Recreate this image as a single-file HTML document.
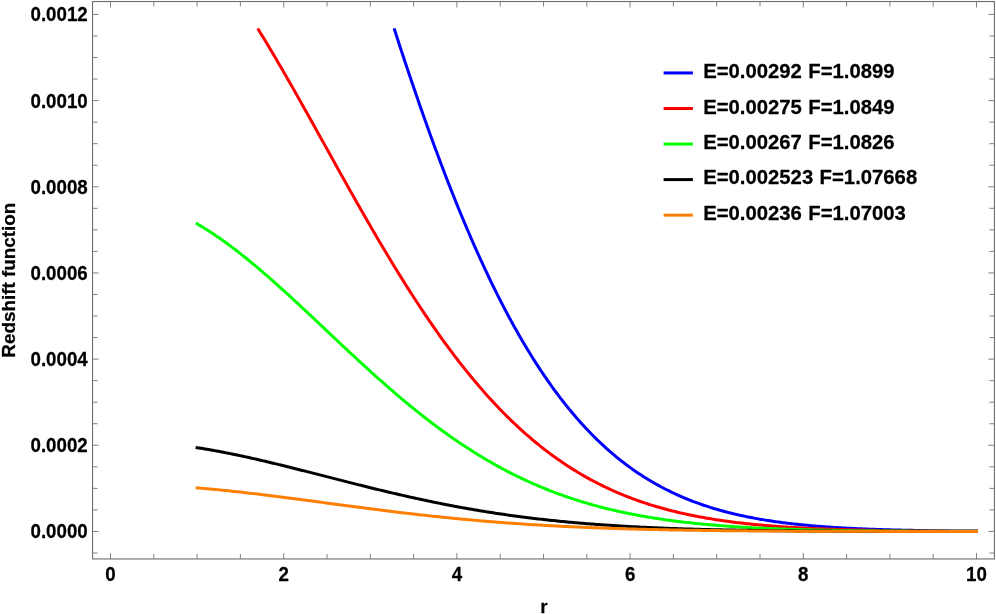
<!DOCTYPE html>
<html><head><meta charset="utf-8"><title>Redshift function</title>
<style>html,body{margin:0;padding:0;background:#fff;}body{width:996px;height:614px;overflow:hidden;font-family:"Liberation Sans",sans-serif;}svg{display:block;will-change:transform;}text{font-family:"Liberation Sans",sans-serif;font-weight:bold;fill:#000;stroke:#000;stroke-width:0.25px;stroke-linejoin:round;}</style></head><body>
<svg width="996" height="614" viewBox="0 0 996 614">
<rect x="0" y="0" width="996" height="614" fill="#ffffff"/>
<g fill="none" stroke-width="3" stroke-linecap="square" stroke-linejoin="round">
<path stroke="#0000ff" d="M394.55 29.77 L396.00 34.27 L397.46 38.76 L398.91 43.22 L400.37 47.67 L401.82 52.10 L403.28 56.51 L404.73 60.91 L406.19 65.28 L407.64 69.64 L409.10 73.97 L410.55 78.28 L412.01 82.58 L413.46 86.85 L414.92 91.11 L416.37 95.34 L417.83 99.56 L419.28 103.75 L420.74 107.92 L422.19 112.07 L423.65 116.19 L425.10 120.30 L426.56 124.38 L428.01 128.45 L429.47 132.49 L430.92 136.50 L432.37 140.50 L433.83 144.47 L435.28 148.42 L436.74 152.35 L438.19 156.25 L439.65 160.13 L441.10 163.99 L442.56 167.83 L444.01 171.64 L445.47 175.43 L446.92 179.19 L448.38 182.93 L449.83 186.65 L451.29 190.34 L452.74 194.01 L454.20 197.65 L455.65 201.27 L457.11 204.87 L458.56 208.44 L460.02 211.99 L461.47 215.51 L462.93 219.01 L464.38 222.48 L465.84 225.93 L467.29 229.36 L468.75 232.76 L470.20 236.13 L471.66 239.48 L473.11 242.81 L474.57 246.11 L476.02 249.39 L477.48 252.64 L478.93 255.86 L480.39 259.07 L481.84 262.24 L483.30 265.40 L484.75 268.52 L486.21 271.63 L487.66 274.71 L489.12 277.76 L490.57 280.79 L492.02 283.79 L493.48 286.77 L494.93 289.72 L496.39 292.65 L497.84 295.56 L499.30 298.44 L500.75 301.30 L502.21 304.13 L503.66 306.93 L505.12 309.72 L506.57 312.48 L508.03 315.21 L509.48 317.92 L510.94 320.60 L512.39 323.26 L513.85 325.90 L515.30 328.51 L516.76 331.10 L518.21 333.67 L519.67 336.21 L521.12 338.73 L522.58 341.22 L524.03 343.69 L525.49 346.14 L526.94 348.56 L528.40 350.96 L529.85 353.34 L531.31 355.69 L532.76 358.02 L534.22 360.33 L535.67 362.61 L537.13 364.87 L538.58 367.11 L540.04 369.33 L541.49 371.52 L542.95 373.69 L544.40 375.84 L545.86 377.97 L547.31 380.07 L548.77 382.15 L550.22 384.21 L551.68 386.25 L553.13 388.27 L554.58 390.27 L556.04 392.24 L557.49 394.19 L558.95 396.12 L560.40 398.04 L561.86 399.93 L563.31 401.79 L564.77 403.64 L566.22 405.47 L567.68 407.28 L569.13 409.07 L570.59 410.83 L572.04 412.58 L573.50 414.31 L574.95 416.01 L576.41 417.70 L577.86 419.37 L579.32 421.02 L580.77 422.65 L582.23 424.26 L583.68 425.85 L585.14 427.42 L586.59 428.98 L588.05 430.51 L589.50 432.03 L590.96 433.53 L592.41 435.01 L593.87 436.47 L595.32 437.91 L596.78 439.34 L598.23 440.75 L599.69 442.14 L601.14 443.52 L602.60 444.87 L604.05 446.22 L605.51 447.54 L606.96 448.85 L608.42 450.14 L609.87 451.41 L611.33 452.67 L612.78 453.91 L614.23 455.13 L615.69 456.34 L617.14 457.54 L618.60 458.71 L620.05 459.88 L621.51 461.02 L622.96 462.15 L624.42 463.27 L625.87 464.37 L627.33 465.46 L628.78 466.53 L630.24 467.59 L631.69 468.63 L633.15 469.66 L634.60 470.68 L636.06 471.68 L637.51 472.67 L638.97 473.64 L640.42 474.60 L641.88 475.55 L643.33 476.48 L644.79 477.40 L646.24 478.31 L647.70 479.21 L649.15 480.09 L650.61 480.96 L652.06 481.82 L653.52 482.66 L654.97 483.49 L656.43 484.31 L657.88 485.12 L659.34 485.92 L660.79 486.71 L662.25 487.48 L663.70 488.24 L665.16 488.99 L666.61 489.73 L668.07 490.46 L669.52 491.18 L670.98 491.89 L672.43 492.58 L673.88 493.27 L675.34 493.95 L676.79 494.61 L678.25 495.27 L679.70 495.91 L681.16 496.55 L682.61 497.17 L684.07 497.79 L685.52 498.40 L686.98 498.99 L688.43 499.58 L689.89 500.16 L691.34 500.73 L692.80 501.29 L694.25 501.84 L695.71 502.38 L697.16 502.92 L698.62 503.44 L700.07 503.96 L701.53 504.47 L702.98 504.97 L704.44 505.46 L705.89 505.95 L707.35 506.42 L708.80 506.89 L710.26 507.36 L711.71 507.81 L713.17 508.26 L714.62 508.69 L716.08 509.13 L717.53 509.55 L718.99 509.97 L720.44 510.38 L721.90 510.78 L723.35 511.18 L724.81 511.57 L726.26 511.95 L727.72 512.33 L729.17 512.70 L730.63 513.06 L732.08 513.42 L733.54 513.77 L734.99 514.12 L736.44 514.46 L737.90 514.79 L739.35 515.12 L740.81 515.44 L742.26 515.76 L743.72 516.07 L745.17 516.38 L746.63 516.68 L748.08 516.97 L749.54 517.26 L750.99 517.54 L752.45 517.82 L753.90 518.10 L755.36 518.37 L756.81 518.63 L758.27 518.89 L759.72 519.15 L761.18 519.40 L762.63 519.64 L764.09 519.89 L765.54 520.12 L767.00 520.36 L768.45 520.58 L769.91 520.81 L771.36 521.03 L772.82 521.24 L774.27 521.46 L775.73 521.66 L777.18 521.87 L778.64 522.07 L780.09 522.27 L781.55 522.46 L783.00 522.65 L784.46 522.83 L785.91 523.02 L787.37 523.19 L788.82 523.37 L790.28 523.54 L791.73 523.71 L793.19 523.88 L794.64 524.04 L796.09 524.20 L797.55 524.35 L799.00 524.51 L800.46 524.65 L801.91 524.80 L803.37 524.95 L804.82 525.09 L806.28 525.23 L807.73 525.36 L809.19 525.49 L810.64 525.63 L812.10 525.75 L813.55 525.88 L815.01 526.00 L816.46 526.12 L817.92 526.24 L819.37 526.35 L820.83 526.47 L822.28 526.58 L823.74 526.69 L825.19 526.79 L826.65 526.90 L828.10 527.00 L829.56 527.10 L831.01 527.20 L832.47 527.29 L833.92 527.39 L835.38 527.48 L836.83 527.57 L838.29 527.66 L839.74 527.75 L841.20 527.83 L842.65 527.91 L844.11 527.99 L845.56 528.07 L847.02 528.15 L848.47 528.23 L849.93 528.30 L851.38 528.37 L852.84 528.45 L854.29 528.52 L855.74 528.58 L857.20 528.65 L858.65 528.72 L860.11 528.78 L861.56 528.84 L863.02 528.90 L864.47 528.96 L865.93 529.02 L867.38 529.08 L868.84 529.14 L870.29 529.19 L871.75 529.25 L873.20 529.30 L874.66 529.35 L876.11 529.40 L877.57 529.45 L879.02 529.50 L880.48 529.54 L881.93 529.59 L883.39 529.63 L884.84 529.68 L886.30 529.72 L887.75 529.76 L889.21 529.80 L890.66 529.84 L892.12 529.88 L893.57 529.92 L895.03 529.96 L896.48 530.00 L897.94 530.03 L899.39 530.07 L900.85 530.10 L902.30 530.13 L903.76 530.17 L905.21 530.20 L906.67 530.23 L908.12 530.26 L909.58 530.29 L911.03 530.32 L912.49 530.35 L913.94 530.38 L915.40 530.40 L916.85 530.43 L918.30 530.45 L919.76 530.48 L921.21 530.50 L922.67 530.53 L924.12 530.55 L925.58 530.57 L927.03 530.60 L928.49 530.62 L929.94 530.64 L931.40 530.66 L932.85 530.68 L934.31 530.70 L935.76 530.72 L937.22 530.74 L938.67 530.76 L940.13 530.78 L941.58 530.79 L943.04 530.81 L944.49 530.83 L945.95 530.84 L947.40 530.86 L948.86 530.87 L950.31 530.89 L951.77 530.90 L953.22 530.92 L954.68 530.93 L956.13 530.95 L957.59 530.96 L959.04 530.97 L960.50 530.98 L961.95 531.00 L963.41 531.01 L964.86 531.02 L966.32 531.03 L967.77 531.04 L969.23 531.05 L970.68 531.07 L972.14 531.08 L973.59 531.09 L975.05 531.10 L976.50 531.10"/>
<path stroke="#ff0000" d="M258.51 29.77 L260.30 32.68 L262.10 35.61 L263.89 38.55 L265.69 41.51 L267.48 44.49 L269.28 47.48 L271.07 50.49 L272.87 53.52 L274.66 56.55 L276.46 59.61 L278.25 62.67 L280.05 65.75 L281.84 68.84 L283.64 71.94 L285.43 75.06 L287.23 78.18 L289.02 81.31 L290.82 84.46 L292.61 87.61 L294.41 90.77 L296.20 93.94 L298.00 97.12 L299.79 100.30 L301.59 103.49 L303.38 106.69 L305.18 109.89 L306.97 113.10 L308.77 116.32 L310.56 119.53 L312.36 122.75 L314.15 125.98 L315.95 129.20 L317.74 132.43 L319.54 135.66 L321.33 138.90 L323.13 142.13 L324.92 145.36 L326.72 148.60 L328.51 151.83 L330.31 155.06 L332.10 158.29 L333.90 161.52 L335.69 164.75 L337.49 167.97 L339.28 171.19 L341.08 174.41 L342.87 177.63 L344.67 180.83 L346.46 184.04 L348.26 187.24 L350.05 190.43 L351.85 193.62 L353.64 196.80 L355.44 199.98 L357.23 203.14 L359.03 206.30 L360.82 209.46 L362.62 212.60 L364.41 215.74 L366.21 218.86 L368.00 221.98 L369.80 225.09 L371.59 228.19 L373.39 231.27 L375.18 234.35 L376.98 237.42 L378.77 240.47 L380.57 243.52 L382.36 246.55 L384.16 249.57 L385.95 252.57 L387.75 255.57 L389.54 258.55 L391.34 261.52 L393.13 264.47 L394.93 267.41 L396.72 270.34 L398.52 273.25 L400.31 276.15 L402.11 279.03 L403.90 281.90 L405.70 284.75 L407.49 287.59 L409.29 290.41 L411.08 293.21 L412.88 296.00 L414.67 298.77 L416.47 301.53 L418.26 304.27 L420.06 306.99 L421.85 309.70 L423.65 312.39 L425.44 315.06 L427.24 317.71 L429.03 320.35 L430.83 322.96 L432.62 325.56 L434.42 328.15 L436.21 330.71 L438.01 333.25 L439.80 335.78 L441.60 338.29 L443.39 340.78 L445.19 343.25 L446.98 345.70 L448.78 348.13 L450.57 350.54 L452.37 352.93 L454.16 355.31 L455.96 357.66 L457.75 360.00 L459.55 362.31 L461.34 364.61 L463.14 366.89 L464.93 369.14 L466.73 371.38 L468.52 373.60 L470.32 375.80 L472.11 377.97 L473.91 380.13 L475.70 382.27 L477.50 384.39 L479.29 386.49 L481.09 388.56 L482.88 390.62 L484.68 392.66 L486.47 394.68 L488.27 396.68 L490.06 398.66 L491.86 400.62 L493.65 402.56 L495.45 404.47 L497.24 406.37 L499.04 408.25 L500.83 410.11 L502.63 411.95 L504.42 413.77 L506.22 415.57 L508.01 417.36 L509.81 419.12 L511.60 420.86 L513.40 422.58 L515.19 424.29 L516.99 425.97 L518.78 427.64 L520.58 429.28 L522.37 430.91 L524.17 432.52 L525.96 434.11 L527.76 435.68 L529.55 437.23 L531.34 438.76 L533.14 440.28 L534.93 441.77 L536.73 443.25 L538.52 444.71 L540.32 446.15 L542.11 447.57 L543.91 448.98 L545.70 450.37 L547.50 451.73 L549.29 453.09 L551.09 454.42 L552.88 455.74 L554.68 457.04 L556.47 458.32 L558.27 459.59 L560.06 460.83 L561.86 462.07 L563.65 463.28 L565.45 464.48 L567.24 465.66 L569.04 466.83 L570.83 467.98 L572.63 469.11 L574.42 470.23 L576.22 471.33 L578.01 472.41 L579.81 473.48 L581.60 474.54 L583.40 475.58 L585.19 476.60 L586.99 477.61 L588.78 478.61 L590.58 479.59 L592.37 480.55 L594.17 481.50 L595.96 482.44 L597.76 483.36 L599.55 484.27 L601.35 485.17 L603.14 486.05 L604.94 486.91 L606.73 487.77 L608.53 488.61 L610.32 489.43 L612.12 490.25 L613.91 491.05 L615.71 491.84 L617.50 492.61 L619.30 493.37 L621.09 494.12 L622.89 494.86 L624.68 495.59 L626.48 496.30 L628.27 497.01 L630.07 497.70 L631.86 498.38 L633.66 499.04 L635.45 499.70 L637.25 500.35 L639.04 500.98 L640.84 501.60 L642.63 502.22 L644.43 502.82 L646.22 503.41 L648.02 503.99 L649.81 504.56 L651.61 505.13 L653.40 505.68 L655.20 506.22 L656.99 506.75 L658.79 507.27 L660.58 507.79 L662.38 508.29 L664.17 508.79 L665.97 509.27 L667.76 509.75 L669.56 510.22 L671.35 510.68 L673.15 511.13 L674.94 511.57 L676.74 512.00 L678.53 512.43 L680.33 512.85 L682.12 513.26 L683.92 513.66 L685.71 514.05 L687.51 514.44 L689.30 514.82 L691.10 515.19 L692.89 515.56 L694.69 515.92 L696.48 516.27 L698.28 516.61 L700.07 516.95 L701.87 517.28 L703.66 517.60 L705.46 517.92 L707.25 518.23 L709.05 518.54 L710.84 518.84 L712.64 519.13 L714.43 519.42 L716.23 519.70 L718.02 519.97 L719.82 520.24 L721.61 520.51 L723.41 520.76 L725.20 521.02 L727.00 521.26 L728.79 521.51 L730.59 521.75 L732.38 521.98 L734.18 522.21 L735.97 522.43 L737.77 522.65 L739.56 522.86 L741.36 523.07 L743.15 523.27 L744.95 523.47 L746.74 523.67 L748.54 523.86 L750.33 524.05 L752.13 524.23 L753.92 524.41 L755.72 524.58 L757.51 524.75 L759.31 524.92 L761.10 525.09 L762.90 525.25 L764.69 525.40 L766.49 525.55 L768.28 525.70 L770.08 525.85 L771.87 525.99 L773.67 526.13 L775.46 526.27 L777.26 526.40 L779.05 526.53 L780.85 526.66 L782.64 526.78 L784.44 526.90 L786.23 527.02 L788.03 527.14 L789.82 527.25 L791.62 527.36 L793.41 527.47 L795.21 527.57 L797.00 527.67 L798.80 527.77 L800.59 527.87 L802.39 527.97 L804.18 528.06 L805.98 528.15 L807.77 528.24 L809.57 528.33 L811.36 528.41 L813.16 528.49 L814.95 528.57 L816.75 528.65 L818.54 528.73 L820.34 528.80 L822.13 528.87 L823.93 528.94 L825.72 529.01 L827.52 529.08 L829.31 529.15 L831.11 529.21 L832.90 529.27 L834.70 529.33 L836.49 529.39 L838.29 529.45 L840.08 529.51 L841.88 529.56 L843.67 529.61 L845.47 529.67 L847.26 529.72 L849.06 529.77 L850.85 529.81 L852.65 529.86 L854.44 529.91 L856.24 529.95 L858.03 529.99 L859.83 530.04 L861.62 530.08 L863.42 530.12 L865.21 530.15 L867.01 530.19 L868.80 530.23 L870.60 530.26 L872.39 530.30 L874.19 530.33 L875.98 530.37 L877.78 530.40 L879.57 530.43 L881.37 530.46 L883.16 530.49 L884.96 530.52 L886.75 530.55 L888.55 530.57 L890.34 530.60 L892.14 530.62 L893.93 530.65 L895.73 530.67 L897.52 530.70 L899.32 530.72 L901.11 530.74 L902.91 530.76 L904.70 530.78 L906.50 530.80 L908.29 530.82 L910.09 530.84 L911.88 530.86 L913.68 530.88 L915.47 530.90 L917.27 530.92 L919.06 530.93 L920.86 530.95 L922.65 530.96 L924.45 530.98 L926.24 530.99 L928.04 531.01 L929.83 531.02 L931.63 531.04 L933.42 531.05 L935.22 531.06 L937.01 531.07 L938.81 531.09 L940.60 531.10 L942.40 531.11 L944.19 531.12 L945.99 531.13 L947.78 531.14 L949.58 531.15 L951.37 531.16 L953.17 531.17 L954.96 531.18 L956.76 531.19 L958.55 531.20 L960.35 531.20 L962.14 531.21 L963.94 531.22 L965.73 531.23 L967.53 531.23 L969.32 531.24 L971.12 531.25 L972.91 531.26 L974.71 531.26 L976.50 531.27"/>
<path stroke="#00ff00" d="M197.10 223.82 L199.05 224.96 L201.00 226.12 L202.95 227.31 L204.89 228.51 L206.84 229.73 L208.79 230.97 L210.74 232.24 L212.69 233.52 L214.64 234.82 L216.58 236.14 L218.53 237.47 L220.48 238.83 L222.43 240.20 L224.38 241.59 L226.33 243.00 L228.28 244.43 L230.22 245.87 L232.17 247.33 L234.12 248.80 L236.07 250.29 L238.02 251.79 L239.97 253.31 L241.92 254.85 L243.86 256.40 L245.81 257.96 L247.76 259.53 L249.71 261.12 L251.66 262.73 L253.61 264.34 L255.56 265.97 L257.50 267.61 L259.45 269.26 L261.40 270.92 L263.35 272.59 L265.30 274.27 L267.25 275.97 L269.19 277.67 L271.14 279.38 L273.09 281.10 L275.04 282.83 L276.99 284.57 L278.94 286.32 L280.89 288.07 L282.83 289.84 L284.78 291.60 L286.73 293.38 L288.68 295.16 L290.63 296.95 L292.58 298.74 L294.52 300.54 L296.47 302.35 L298.42 304.16 L300.37 305.97 L302.32 307.79 L304.27 309.61 L306.22 311.43 L308.16 313.26 L310.11 315.09 L312.06 316.92 L314.01 318.76 L315.96 320.59 L317.91 322.43 L319.86 324.27 L321.80 326.11 L323.75 327.95 L325.70 329.79 L327.65 331.63 L329.60 333.47 L331.55 335.31 L333.50 337.15 L335.44 338.98 L337.39 340.82 L339.34 342.65 L341.29 344.48 L343.24 346.31 L345.19 348.13 L347.13 349.96 L349.08 351.78 L351.03 353.59 L352.98 355.40 L354.93 357.21 L356.88 359.02 L358.83 360.81 L360.77 362.61 L362.72 364.40 L364.67 366.18 L366.62 367.96 L368.57 369.73 L370.52 371.50 L372.46 373.26 L374.41 375.01 L376.36 376.76 L378.31 378.50 L380.26 380.23 L382.21 381.96 L384.16 383.68 L386.10 385.39 L388.05 387.09 L390.00 388.79 L391.95 390.47 L393.90 392.15 L395.85 393.82 L397.80 395.48 L399.74 397.13 L401.69 398.78 L403.64 400.41 L405.59 402.03 L407.54 403.65 L409.49 405.25 L411.44 406.85 L413.38 408.43 L415.33 410.01 L417.28 411.57 L419.23 413.13 L421.18 414.67 L423.13 416.20 L425.07 417.73 L427.02 419.24 L428.97 420.74 L430.92 422.23 L432.87 423.71 L434.82 425.17 L436.77 426.63 L438.71 428.07 L440.66 429.51 L442.61 430.93 L444.56 432.34 L446.51 433.74 L448.46 435.12 L450.40 436.50 L452.35 437.86 L454.30 439.21 L456.25 440.55 L458.20 441.87 L460.15 443.19 L462.10 444.49 L464.04 445.78 L465.99 447.06 L467.94 448.33 L469.89 449.58 L471.84 450.82 L473.79 452.05 L475.74 453.27 L477.68 454.47 L479.63 455.66 L481.58 456.84 L483.53 458.01 L485.48 459.17 L487.43 460.31 L489.38 461.44 L491.32 462.56 L493.27 463.67 L495.22 464.76 L497.17 465.84 L499.12 466.91 L501.07 467.97 L503.01 469.01 L504.96 470.05 L506.91 471.07 L508.86 472.08 L510.81 473.07 L512.76 474.06 L514.71 475.03 L516.65 475.99 L518.60 476.94 L520.55 477.88 L522.50 478.81 L524.45 479.72 L526.40 480.62 L528.35 481.51 L530.29 482.39 L532.24 483.26 L534.19 484.11 L536.14 484.96 L538.09 485.79 L540.04 486.61 L541.98 487.43 L543.93 488.23 L545.88 489.01 L547.83 489.79 L549.78 490.56 L551.73 491.32 L553.68 492.06 L555.62 492.80 L557.57 493.52 L559.52 494.23 L561.47 494.94 L563.42 495.63 L565.37 496.31 L567.32 496.99 L569.26 497.65 L571.21 498.30 L573.16 498.94 L575.11 499.58 L577.06 500.20 L579.01 500.81 L580.95 501.42 L582.90 502.01 L584.85 502.60 L586.80 503.17 L588.75 503.74 L590.70 504.30 L592.65 504.84 L594.59 505.38 L596.54 505.91 L598.49 506.44 L600.44 506.95 L602.39 507.45 L604.34 507.95 L606.28 508.44 L608.23 508.92 L610.18 509.39 L612.13 509.85 L614.08 510.31 L616.03 510.76 L617.98 511.20 L619.92 511.63 L621.87 512.05 L623.82 512.47 L625.77 512.88 L627.72 513.28 L629.67 513.68 L631.62 514.06 L633.56 514.44 L635.51 514.82 L637.46 515.18 L639.41 515.54 L641.36 515.90 L643.31 516.24 L645.25 516.58 L647.20 516.92 L649.15 517.25 L651.10 517.57 L653.05 517.88 L655.00 518.19 L656.95 518.49 L658.89 518.79 L660.84 519.08 L662.79 519.37 L664.74 519.65 L666.69 519.92 L668.64 520.19 L670.59 520.46 L672.53 520.72 L674.48 520.97 L676.43 521.22 L678.38 521.46 L680.33 521.70 L682.28 521.93 L684.22 522.16 L686.17 522.38 L688.12 522.60 L690.07 522.82 L692.02 523.03 L693.97 523.23 L695.92 523.43 L697.86 523.63 L699.81 523.82 L701.76 524.01 L703.71 524.20 L705.66 524.38 L707.61 524.55 L709.56 524.73 L711.50 524.89 L713.45 525.06 L715.40 525.22 L717.35 525.38 L719.30 525.53 L721.25 525.68 L723.19 525.83 L725.14 525.98 L727.09 526.12 L729.04 526.26 L730.99 526.39 L732.94 526.52 L734.89 526.65 L736.83 526.78 L738.78 526.90 L740.73 527.02 L742.68 527.14 L744.63 527.25 L746.58 527.36 L748.53 527.47 L750.47 527.58 L752.42 527.68 L754.37 527.78 L756.32 527.88 L758.27 527.98 L760.22 528.07 L762.16 528.16 L764.11 528.25 L766.06 528.34 L768.01 528.43 L769.96 528.51 L771.91 528.59 L773.86 528.67 L775.80 528.75 L777.75 528.82 L779.70 528.90 L781.65 528.97 L783.60 529.04 L785.55 529.10 L787.50 529.17 L789.44 529.24 L791.39 529.30 L793.34 529.36 L795.29 529.42 L797.24 529.48 L799.19 529.53 L801.13 529.59 L803.08 529.64 L805.03 529.70 L806.98 529.75 L808.93 529.80 L810.88 529.84 L812.83 529.89 L814.77 529.94 L816.72 529.98 L818.67 530.03 L820.62 530.07 L822.57 530.11 L824.52 530.15 L826.47 530.19 L828.41 530.23 L830.36 530.26 L832.31 530.30 L834.26 530.33 L836.21 530.37 L838.16 530.40 L840.11 530.43 L842.05 530.46 L844.00 530.49 L845.95 530.52 L847.90 530.55 L849.85 530.58 L851.80 530.61 L853.74 530.63 L855.69 530.66 L857.64 530.68 L859.59 530.71 L861.54 530.73 L863.49 530.75 L865.44 530.77 L867.38 530.79 L869.33 530.82 L871.28 530.84 L873.23 530.86 L875.18 530.87 L877.13 530.89 L879.07 530.91 L881.02 530.93 L882.97 530.94 L884.92 530.96 L886.87 530.98 L888.82 530.99 L890.77 531.01 L892.71 531.02 L894.66 531.04 L896.61 531.05 L898.56 531.06 L900.51 531.07 L902.46 531.09 L904.41 531.10 L906.35 531.11 L908.30 531.12 L910.25 531.13 L912.20 531.14 L914.15 531.15 L916.10 531.16 L918.04 531.17 L919.99 531.18 L921.94 531.19 L923.89 531.20 L925.84 531.21 L927.79 531.22 L929.74 531.23 L931.68 531.23 L933.63 531.24 L935.58 531.25 L937.53 531.25 L939.48 531.26 L941.43 531.27 L943.38 531.27 L945.32 531.28 L947.27 531.29 L949.22 531.29 L951.17 531.30 L953.12 531.30 L955.07 531.31 L957.01 531.31 L958.96 531.32 L960.91 531.32 L962.86 531.33 L964.81 531.33 L966.76 531.34 L968.71 531.34 L970.65 531.34 L972.60 531.35 L974.55 531.35 L976.50 531.35"/>
<path stroke="#000000" d="M197.10 447.65 L199.05 447.96 L201.00 448.27 L202.95 448.59 L204.89 448.92 L206.84 449.25 L208.79 449.59 L210.74 449.93 L212.69 450.28 L214.64 450.63 L216.58 450.99 L218.53 451.35 L220.48 451.72 L222.43 452.09 L224.38 452.47 L226.33 452.85 L228.28 453.24 L230.22 453.63 L232.17 454.02 L234.12 454.42 L236.07 454.83 L238.02 455.23 L239.97 455.65 L241.92 456.06 L243.86 456.48 L245.81 456.91 L247.76 457.33 L249.71 457.76 L251.66 458.20 L253.61 458.64 L255.56 459.08 L257.50 459.52 L259.45 459.97 L261.40 460.42 L263.35 460.87 L265.30 461.33 L267.25 461.79 L269.19 462.25 L271.14 462.72 L273.09 463.18 L275.04 463.65 L276.99 464.13 L278.94 464.60 L280.89 465.08 L282.83 465.55 L284.78 466.03 L286.73 466.52 L288.68 467.00 L290.63 467.49 L292.58 467.97 L294.52 468.46 L296.47 468.95 L298.42 469.44 L300.37 469.93 L302.32 470.43 L304.27 470.92 L306.22 471.42 L308.16 471.91 L310.11 472.41 L312.06 472.91 L314.01 473.41 L315.96 473.90 L317.91 474.40 L319.86 474.90 L321.80 475.40 L323.75 475.90 L325.70 476.40 L327.65 476.90 L329.60 477.40 L331.55 477.90 L333.50 478.40 L335.44 478.90 L337.39 479.40 L339.34 479.90 L341.29 480.39 L343.24 480.89 L345.19 481.39 L347.13 481.88 L349.08 482.38 L351.03 482.87 L352.98 483.36 L354.93 483.85 L356.88 484.34 L358.83 484.83 L360.77 485.32 L362.72 485.81 L364.67 486.29 L366.62 486.78 L368.57 487.26 L370.52 487.74 L372.46 488.22 L374.41 488.69 L376.36 489.17 L378.31 489.64 L380.26 490.11 L382.21 490.58 L384.16 491.05 L386.10 491.52 L388.05 491.98 L390.00 492.44 L391.95 492.90 L393.90 493.36 L395.85 493.81 L397.80 494.26 L399.74 494.71 L401.69 495.16 L403.64 495.60 L405.59 496.05 L407.54 496.49 L409.49 496.92 L411.44 497.36 L413.38 497.79 L415.33 498.22 L417.28 498.64 L419.23 499.07 L421.18 499.49 L423.13 499.90 L425.07 500.32 L427.02 500.73 L428.97 501.14 L430.92 501.55 L432.87 501.95 L434.82 502.35 L436.77 502.74 L438.71 503.14 L440.66 503.53 L442.61 503.92 L444.56 504.30 L446.51 504.68 L448.46 505.06 L450.40 505.43 L452.35 505.81 L454.30 506.17 L456.25 506.54 L458.20 506.90 L460.15 507.26 L462.10 507.61 L464.04 507.97 L465.99 508.32 L467.94 508.66 L469.89 509.00 L471.84 509.34 L473.79 509.68 L475.74 510.01 L477.68 510.34 L479.63 510.66 L481.58 510.99 L483.53 511.30 L485.48 511.62 L487.43 511.93 L489.38 512.24 L491.32 512.55 L493.27 512.85 L495.22 513.15 L497.17 513.44 L499.12 513.73 L501.07 514.02 L503.01 514.31 L504.96 514.59 L506.91 514.87 L508.86 515.15 L510.81 515.42 L512.76 515.69 L514.71 515.95 L516.65 516.22 L518.60 516.48 L520.55 516.73 L522.50 516.98 L524.45 517.23 L526.40 517.48 L528.35 517.72 L530.29 517.96 L532.24 518.20 L534.19 518.44 L536.14 518.67 L538.09 518.90 L540.04 519.12 L541.98 519.34 L543.93 519.56 L545.88 519.78 L547.83 519.99 L549.78 520.20 L551.73 520.41 L553.68 520.61 L555.62 520.81 L557.57 521.01 L559.52 521.21 L561.47 521.40 L563.42 521.59 L565.37 521.78 L567.32 521.96 L569.26 522.14 L571.21 522.32 L573.16 522.50 L575.11 522.67 L577.06 522.84 L579.01 523.01 L580.95 523.17 L582.90 523.34 L584.85 523.50 L586.80 523.66 L588.75 523.81 L590.70 523.96 L592.65 524.11 L594.59 524.26 L596.54 524.41 L598.49 524.55 L600.44 524.69 L602.39 524.83 L604.34 524.97 L606.28 525.10 L608.23 525.23 L610.18 525.36 L612.13 525.49 L614.08 525.61 L616.03 525.74 L617.98 525.86 L619.92 525.98 L621.87 526.09 L623.82 526.21 L625.77 526.32 L627.72 526.43 L629.67 526.54 L631.62 526.65 L633.56 526.75 L635.51 526.85 L637.46 526.95 L639.41 527.05 L641.36 527.15 L643.31 527.25 L645.25 527.34 L647.20 527.43 L649.15 527.52 L651.10 527.61 L653.05 527.70 L655.00 527.78 L656.95 527.87 L658.89 527.95 L660.84 528.03 L662.79 528.11 L664.74 528.18 L666.69 528.26 L668.64 528.33 L670.59 528.41 L672.53 528.48 L674.48 528.55 L676.43 528.62 L678.38 528.68 L680.33 528.75 L682.28 528.81 L684.22 528.88 L686.17 528.94 L688.12 529.00 L690.07 529.06 L692.02 529.11 L693.97 529.17 L695.92 529.23 L697.86 529.28 L699.81 529.33 L701.76 529.39 L703.71 529.44 L705.66 529.49 L707.61 529.54 L709.56 529.58 L711.50 529.63 L713.45 529.68 L715.40 529.72 L717.35 529.76 L719.30 529.81 L721.25 529.85 L723.19 529.89 L725.14 529.93 L727.09 529.97 L729.04 530.01 L730.99 530.04 L732.94 530.08 L734.89 530.12 L736.83 530.15 L738.78 530.18 L740.73 530.22 L742.68 530.25 L744.63 530.28 L746.58 530.31 L748.53 530.34 L750.47 530.37 L752.42 530.40 L754.37 530.43 L756.32 530.46 L758.27 530.48 L760.22 530.51 L762.16 530.53 L764.11 530.56 L766.06 530.58 L768.01 530.61 L769.96 530.63 L771.91 530.65 L773.86 530.67 L775.80 530.70 L777.75 530.72 L779.70 530.74 L781.65 530.76 L783.60 530.78 L785.55 530.80 L787.50 530.81 L789.44 530.83 L791.39 530.85 L793.34 530.87 L795.29 530.88 L797.24 530.90 L799.19 530.92 L801.13 530.93 L803.08 530.95 L805.03 530.96 L806.98 530.97 L808.93 530.99 L810.88 531.00 L812.83 531.01 L814.77 531.03 L816.72 531.04 L818.67 531.05 L820.62 531.06 L822.57 531.07 L824.52 531.09 L826.47 531.10 L828.41 531.11 L830.36 531.12 L832.31 531.13 L834.26 531.14 L836.21 531.15 L838.16 531.16 L840.11 531.16 L842.05 531.17 L844.00 531.18 L845.95 531.19 L847.90 531.20 L849.85 531.21 L851.80 531.21 L853.74 531.22 L855.69 531.23 L857.64 531.23 L859.59 531.24 L861.54 531.25 L863.49 531.25 L865.44 531.26 L867.38 531.27 L869.33 531.27 L871.28 531.28 L873.23 531.28 L875.18 531.29 L877.13 531.29 L879.07 531.30 L881.02 531.30 L882.97 531.31 L884.92 531.31 L886.87 531.32 L888.82 531.32 L890.77 531.33 L892.71 531.33 L894.66 531.33 L896.61 531.34 L898.56 531.34 L900.51 531.34 L902.46 531.35 L904.41 531.35 L906.35 531.35 L908.30 531.36 L910.25 531.36 L912.20 531.36 L914.15 531.37 L916.10 531.37 L918.04 531.37 L919.99 531.37 L921.94 531.38 L923.89 531.38 L925.84 531.38 L927.79 531.38 L929.74 531.39 L931.68 531.39 L933.63 531.39 L935.58 531.39 L937.53 531.39 L939.48 531.40 L941.43 531.40 L943.38 531.40 L945.32 531.40 L947.27 531.40 L949.22 531.41 L951.17 531.41 L953.12 531.41 L955.07 531.41 L957.01 531.41 L958.96 531.41 L960.91 531.41 L962.86 531.42 L964.81 531.42 L966.76 531.42 L968.71 531.42 L970.65 531.42 L972.60 531.42 L974.55 531.42 L976.50 531.42"/>
<path stroke="#ff8000" d="M197.10 487.89 L199.05 488.05 L201.00 488.22 L202.95 488.38 L204.89 488.55 L206.84 488.73 L208.79 488.90 L210.74 489.08 L212.69 489.26 L214.64 489.45 L216.58 489.63 L218.53 489.82 L220.48 490.02 L222.43 490.21 L224.38 490.41 L226.33 490.61 L228.28 490.81 L230.22 491.01 L232.17 491.22 L234.12 491.43 L236.07 491.64 L238.02 491.85 L239.97 492.07 L241.92 492.28 L243.86 492.50 L245.81 492.72 L247.76 492.95 L249.71 493.17 L251.66 493.40 L253.61 493.63 L255.56 493.86 L257.50 494.09 L259.45 494.32 L261.40 494.56 L263.35 494.80 L265.30 495.03 L267.25 495.27 L269.19 495.52 L271.14 495.76 L273.09 496.00 L275.04 496.25 L276.99 496.49 L278.94 496.74 L280.89 496.99 L282.83 497.24 L284.78 497.49 L286.73 497.74 L288.68 497.99 L290.63 498.25 L292.58 498.50 L294.52 498.75 L296.47 499.01 L298.42 499.27 L300.37 499.52 L302.32 499.78 L304.27 500.04 L306.22 500.30 L308.16 500.55 L310.11 500.81 L312.06 501.07 L314.01 501.33 L315.96 501.59 L317.91 501.85 L319.86 502.11 L321.80 502.37 L323.75 502.63 L325.70 502.90 L327.65 503.16 L329.60 503.42 L331.55 503.68 L333.50 503.94 L335.44 504.20 L337.39 504.46 L339.34 504.72 L341.29 504.98 L343.24 505.23 L345.19 505.49 L347.13 505.75 L349.08 506.01 L351.03 506.27 L352.98 506.52 L354.93 506.78 L356.88 507.03 L358.83 507.29 L360.77 507.54 L362.72 507.80 L364.67 508.05 L366.62 508.30 L368.57 508.55 L370.52 508.80 L372.46 509.05 L374.41 509.30 L376.36 509.55 L378.31 509.79 L380.26 510.04 L382.21 510.28 L384.16 510.53 L386.10 510.77 L388.05 511.01 L390.00 511.25 L391.95 511.49 L393.90 511.73 L395.85 511.96 L397.80 512.20 L399.74 512.43 L401.69 512.66 L403.64 512.90 L405.59 513.13 L407.54 513.35 L409.49 513.58 L411.44 513.81 L413.38 514.03 L415.33 514.25 L417.28 514.48 L419.23 514.70 L421.18 514.91 L423.13 515.13 L425.07 515.35 L427.02 515.56 L428.97 515.77 L430.92 515.98 L432.87 516.19 L434.82 516.40 L436.77 516.61 L438.71 516.81 L440.66 517.02 L442.61 517.22 L444.56 517.42 L446.51 517.61 L448.46 517.81 L450.40 518.00 L452.35 518.20 L454.30 518.39 L456.25 518.58 L458.20 518.77 L460.15 518.95 L462.10 519.14 L464.04 519.32 L465.99 519.50 L467.94 519.68 L469.89 519.86 L471.84 520.03 L473.79 520.21 L475.74 520.38 L477.68 520.55 L479.63 520.72 L481.58 520.89 L483.53 521.05 L485.48 521.22 L487.43 521.38 L489.38 521.54 L491.32 521.70 L493.27 521.85 L495.22 522.01 L497.17 522.16 L499.12 522.31 L501.07 522.46 L503.01 522.61 L504.96 522.76 L506.91 522.90 L508.86 523.04 L510.81 523.18 L512.76 523.32 L514.71 523.46 L516.65 523.60 L518.60 523.73 L520.55 523.86 L522.50 524.00 L524.45 524.13 L526.40 524.25 L528.35 524.38 L530.29 524.50 L532.24 524.63 L534.19 524.75 L536.14 524.87 L538.09 524.99 L540.04 525.10 L541.98 525.22 L543.93 525.33 L545.88 525.44 L547.83 525.55 L549.78 525.66 L551.73 525.77 L553.68 525.87 L555.62 525.98 L557.57 526.08 L559.52 526.18 L561.47 526.28 L563.42 526.38 L565.37 526.47 L567.32 526.57 L569.26 526.66 L571.21 526.76 L573.16 526.85 L575.11 526.94 L577.06 527.03 L579.01 527.11 L580.95 527.20 L582.90 527.28 L584.85 527.36 L586.80 527.45 L588.75 527.53 L590.70 527.61 L592.65 527.68 L594.59 527.76 L596.54 527.83 L598.49 527.91 L600.44 527.98 L602.39 528.05 L604.34 528.12 L606.28 528.19 L608.23 528.26 L610.18 528.33 L612.13 528.39 L614.08 528.46 L616.03 528.52 L617.98 528.58 L619.92 528.64 L621.87 528.70 L623.82 528.76 L625.77 528.82 L627.72 528.88 L629.67 528.93 L631.62 528.99 L633.56 529.04 L635.51 529.09 L637.46 529.15 L639.41 529.20 L641.36 529.25 L643.31 529.30 L645.25 529.35 L647.20 529.39 L649.15 529.44 L651.10 529.48 L653.05 529.53 L655.00 529.57 L656.95 529.62 L658.89 529.66 L660.84 529.70 L662.79 529.74 L664.74 529.78 L666.69 529.82 L668.64 529.86 L670.59 529.89 L672.53 529.93 L674.48 529.97 L676.43 530.00 L678.38 530.04 L680.33 530.07 L682.28 530.10 L684.22 530.13 L686.17 530.17 L688.12 530.20 L690.07 530.23 L692.02 530.26 L693.97 530.29 L695.92 530.31 L697.86 530.34 L699.81 530.37 L701.76 530.40 L703.71 530.42 L705.66 530.45 L707.61 530.47 L709.56 530.50 L711.50 530.52 L713.45 530.55 L715.40 530.57 L717.35 530.59 L719.30 530.61 L721.25 530.63 L723.19 530.65 L725.14 530.67 L727.09 530.69 L729.04 530.71 L730.99 530.73 L732.94 530.75 L734.89 530.77 L736.83 530.79 L738.78 530.81 L740.73 530.82 L742.68 530.84 L744.63 530.86 L746.58 530.87 L748.53 530.89 L750.47 530.90 L752.42 530.92 L754.37 530.93 L756.32 530.94 L758.27 530.96 L760.22 530.97 L762.16 530.98 L764.11 531.00 L766.06 531.01 L768.01 531.02 L769.96 531.03 L771.91 531.05 L773.86 531.06 L775.80 531.07 L777.75 531.08 L779.70 531.09 L781.65 531.10 L783.60 531.11 L785.55 531.12 L787.50 531.13 L789.44 531.14 L791.39 531.15 L793.34 531.15 L795.29 531.16 L797.24 531.17 L799.19 531.18 L801.13 531.19 L803.08 531.19 L805.03 531.20 L806.98 531.21 L808.93 531.22 L810.88 531.22 L812.83 531.23 L814.77 531.24 L816.72 531.24 L818.67 531.25 L820.62 531.25 L822.57 531.26 L824.52 531.27 L826.47 531.27 L828.41 531.28 L830.36 531.28 L832.31 531.29 L834.26 531.29 L836.21 531.30 L838.16 531.30 L840.11 531.31 L842.05 531.31 L844.00 531.31 L845.95 531.32 L847.90 531.32 L849.85 531.33 L851.80 531.33 L853.74 531.33 L855.69 531.34 L857.64 531.34 L859.59 531.34 L861.54 531.35 L863.49 531.35 L865.44 531.35 L867.38 531.36 L869.33 531.36 L871.28 531.36 L873.23 531.37 L875.18 531.37 L877.13 531.37 L879.07 531.37 L881.02 531.38 L882.97 531.38 L884.92 531.38 L886.87 531.38 L888.82 531.39 L890.77 531.39 L892.71 531.39 L894.66 531.39 L896.61 531.39 L898.56 531.40 L900.51 531.40 L902.46 531.40 L904.41 531.40 L906.35 531.40 L908.30 531.40 L910.25 531.41 L912.20 531.41 L914.15 531.41 L916.10 531.41 L918.04 531.41 L919.99 531.41 L921.94 531.41 L923.89 531.41 L925.84 531.42 L927.79 531.42 L929.74 531.42 L931.68 531.42 L933.63 531.42 L935.58 531.42 L937.53 531.42 L939.48 531.42 L941.43 531.42 L943.38 531.43 L945.32 531.43 L947.27 531.43 L949.22 531.43 L951.17 531.43 L953.12 531.43 L955.07 531.43 L957.01 531.43 L958.96 531.43 L960.91 531.43 L962.86 531.43 L964.81 531.43 L966.76 531.43 L968.71 531.43 L970.65 531.43 L972.60 531.44 L974.55 531.44 L976.50 531.44"/>
</g>
<g fill="none" stroke="#6e6e6e" stroke-width="1.1">
<rect x="92.55" y="1.53" width="901.90" height="557.42"/>
</g>
<g fill="none" stroke="#747474" stroke-width="0.9">
<line x1="110.50" y1="558.95" x2="110.50" y2="552.95"/>
<line x1="110.50" y1="1.53" x2="110.50" y2="7.53"/>
<line x1="153.80" y1="558.95" x2="153.80" y2="553.95"/>
<line x1="153.80" y1="1.53" x2="153.80" y2="6.53"/>
<line x1="197.10" y1="558.95" x2="197.10" y2="553.95"/>
<line x1="197.10" y1="1.53" x2="197.10" y2="6.53"/>
<line x1="240.40" y1="558.95" x2="240.40" y2="553.95"/>
<line x1="240.40" y1="1.53" x2="240.40" y2="6.53"/>
<line x1="283.70" y1="558.95" x2="283.70" y2="552.95"/>
<line x1="283.70" y1="1.53" x2="283.70" y2="7.53"/>
<line x1="327.00" y1="558.95" x2="327.00" y2="553.95"/>
<line x1="327.00" y1="1.53" x2="327.00" y2="6.53"/>
<line x1="370.30" y1="558.95" x2="370.30" y2="553.95"/>
<line x1="370.30" y1="1.53" x2="370.30" y2="6.53"/>
<line x1="413.60" y1="558.95" x2="413.60" y2="553.95"/>
<line x1="413.60" y1="1.53" x2="413.60" y2="6.53"/>
<line x1="456.90" y1="558.95" x2="456.90" y2="552.95"/>
<line x1="456.90" y1="1.53" x2="456.90" y2="7.53"/>
<line x1="500.20" y1="558.95" x2="500.20" y2="553.95"/>
<line x1="500.20" y1="1.53" x2="500.20" y2="6.53"/>
<line x1="543.50" y1="558.95" x2="543.50" y2="553.95"/>
<line x1="543.50" y1="1.53" x2="543.50" y2="6.53"/>
<line x1="586.80" y1="558.95" x2="586.80" y2="553.95"/>
<line x1="586.80" y1="1.53" x2="586.80" y2="6.53"/>
<line x1="630.10" y1="558.95" x2="630.10" y2="552.95"/>
<line x1="630.10" y1="1.53" x2="630.10" y2="7.53"/>
<line x1="673.40" y1="558.95" x2="673.40" y2="553.95"/>
<line x1="673.40" y1="1.53" x2="673.40" y2="6.53"/>
<line x1="716.70" y1="558.95" x2="716.70" y2="553.95"/>
<line x1="716.70" y1="1.53" x2="716.70" y2="6.53"/>
<line x1="760.00" y1="558.95" x2="760.00" y2="553.95"/>
<line x1="760.00" y1="1.53" x2="760.00" y2="6.53"/>
<line x1="803.30" y1="558.95" x2="803.30" y2="552.95"/>
<line x1="803.30" y1="1.53" x2="803.30" y2="7.53"/>
<line x1="846.60" y1="558.95" x2="846.60" y2="553.95"/>
<line x1="846.60" y1="1.53" x2="846.60" y2="6.53"/>
<line x1="889.90" y1="558.95" x2="889.90" y2="553.95"/>
<line x1="889.90" y1="1.53" x2="889.90" y2="6.53"/>
<line x1="933.20" y1="558.95" x2="933.20" y2="553.95"/>
<line x1="933.20" y1="1.53" x2="933.20" y2="6.53"/>
<line x1="976.50" y1="558.95" x2="976.50" y2="552.95"/>
<line x1="976.50" y1="1.53" x2="976.50" y2="7.53"/>
<line x1="92.55" y1="552.99" x2="97.55" y2="552.99"/>
<line x1="994.45" y1="552.99" x2="989.45" y2="552.99"/>
<line x1="92.55" y1="531.45" x2="98.55" y2="531.45"/>
<line x1="994.45" y1="531.45" x2="988.45" y2="531.45"/>
<line x1="92.55" y1="509.91" x2="97.55" y2="509.91"/>
<line x1="994.45" y1="509.91" x2="989.45" y2="509.91"/>
<line x1="92.55" y1="488.37" x2="97.55" y2="488.37"/>
<line x1="994.45" y1="488.37" x2="989.45" y2="488.37"/>
<line x1="92.55" y1="466.82" x2="97.55" y2="466.82"/>
<line x1="994.45" y1="466.82" x2="989.45" y2="466.82"/>
<line x1="92.55" y1="445.28" x2="98.55" y2="445.28"/>
<line x1="994.45" y1="445.28" x2="988.45" y2="445.28"/>
<line x1="92.55" y1="423.74" x2="97.55" y2="423.74"/>
<line x1="994.45" y1="423.74" x2="989.45" y2="423.74"/>
<line x1="92.55" y1="402.20" x2="97.55" y2="402.20"/>
<line x1="994.45" y1="402.20" x2="989.45" y2="402.20"/>
<line x1="92.55" y1="380.65" x2="97.55" y2="380.65"/>
<line x1="994.45" y1="380.65" x2="989.45" y2="380.65"/>
<line x1="92.55" y1="359.11" x2="98.55" y2="359.11"/>
<line x1="994.45" y1="359.11" x2="988.45" y2="359.11"/>
<line x1="92.55" y1="337.57" x2="97.55" y2="337.57"/>
<line x1="994.45" y1="337.57" x2="989.45" y2="337.57"/>
<line x1="92.55" y1="316.03" x2="97.55" y2="316.03"/>
<line x1="994.45" y1="316.03" x2="989.45" y2="316.03"/>
<line x1="92.55" y1="294.48" x2="97.55" y2="294.48"/>
<line x1="994.45" y1="294.48" x2="989.45" y2="294.48"/>
<line x1="92.55" y1="272.94" x2="98.55" y2="272.94"/>
<line x1="994.45" y1="272.94" x2="988.45" y2="272.94"/>
<line x1="92.55" y1="251.40" x2="97.55" y2="251.40"/>
<line x1="994.45" y1="251.40" x2="989.45" y2="251.40"/>
<line x1="92.55" y1="229.86" x2="97.55" y2="229.86"/>
<line x1="994.45" y1="229.86" x2="989.45" y2="229.86"/>
<line x1="92.55" y1="208.31" x2="97.55" y2="208.31"/>
<line x1="994.45" y1="208.31" x2="989.45" y2="208.31"/>
<line x1="92.55" y1="186.77" x2="98.55" y2="186.77"/>
<line x1="994.45" y1="186.77" x2="988.45" y2="186.77"/>
<line x1="92.55" y1="165.23" x2="97.55" y2="165.23"/>
<line x1="994.45" y1="165.23" x2="989.45" y2="165.23"/>
<line x1="92.55" y1="143.69" x2="97.55" y2="143.69"/>
<line x1="994.45" y1="143.69" x2="989.45" y2="143.69"/>
<line x1="92.55" y1="122.14" x2="97.55" y2="122.14"/>
<line x1="994.45" y1="122.14" x2="989.45" y2="122.14"/>
<line x1="92.55" y1="100.60" x2="98.55" y2="100.60"/>
<line x1="994.45" y1="100.60" x2="988.45" y2="100.60"/>
<line x1="92.55" y1="79.06" x2="97.55" y2="79.06"/>
<line x1="994.45" y1="79.06" x2="989.45" y2="79.06"/>
<line x1="92.55" y1="57.52" x2="97.55" y2="57.52"/>
<line x1="994.45" y1="57.52" x2="989.45" y2="57.52"/>
<line x1="92.55" y1="35.97" x2="97.55" y2="35.97"/>
<line x1="994.45" y1="35.97" x2="989.45" y2="35.97"/>
<line x1="92.55" y1="14.43" x2="98.55" y2="14.43"/>
<line x1="994.45" y1="14.43" x2="988.45" y2="14.43"/>
</g>
<g>
<text transform="translate(87.75 538.15) scale(1.0000 1.0330)" font-size="18.73" text-anchor="end">0.0000</text>
<text transform="translate(87.75 452.00) scale(1.0000 1.0330)" font-size="18.73" text-anchor="end">0.0002</text>
<text transform="translate(87.75 366.00) scale(1.0000 1.0330)" font-size="18.73" text-anchor="end">0.0004</text>
<text transform="translate(87.75 280.00) scale(1.0000 1.0330)" font-size="18.73" text-anchor="end">0.0006</text>
<text transform="translate(87.75 194.00) scale(1.0000 1.0330)" font-size="18.73" text-anchor="end">0.0008</text>
<text transform="translate(87.75 108.00) scale(1.0000 1.0330)" font-size="18.73" text-anchor="end">0.0010</text>
<text transform="translate(87.75 21.05) scale(1.0000 1.0330)" font-size="18.73" text-anchor="end">0.0012</text>
<text transform="translate(110.50 580.55) scale(1.0000 1.0330)" font-size="18.73" text-anchor="middle">0</text>
<text transform="translate(283.70 580.55) scale(1.0000 1.0330)" font-size="18.73" text-anchor="middle">2</text>
<text transform="translate(456.90 580.55) scale(1.0000 1.0330)" font-size="18.73" text-anchor="middle">4</text>
<text transform="translate(630.10 580.55) scale(1.0000 1.0330)" font-size="18.73" text-anchor="middle">6</text>
<text transform="translate(803.30 580.55) scale(1.0000 1.0330)" font-size="18.73" text-anchor="middle">8</text>
<text transform="translate(976.50 580.55) scale(1.0000 1.0330)" font-size="18.73" text-anchor="middle">10</text>
</g>
<g>
<text transform="translate(543.80 612.90) scale(1.0000 1.0180)" font-size="18.87" text-anchor="middle">r</text>
<text transform="translate(15.45 280.20) rotate(-90) scale(1.0000 1.0180)" font-size="18.87" text-anchor="middle">Redshift function</text>
</g>
<g>
<line x1="663.6" y1="72.95" x2="692.9" y2="72.95" stroke="#0000ff" stroke-width="3"/>
<text transform="translate(703.20 78.25) scale(1.0000 1.0150)" font-size="20.30" text-anchor="start">E=0.00292 <tspan dx="0.8">F=1.0899</tspan></text>
<line x1="663.6" y1="108.50" x2="692.9" y2="108.50" stroke="#ff0000" stroke-width="3"/>
<text transform="translate(703.20 113.65) scale(1.0000 1.0150)" font-size="20.30" text-anchor="start">E=0.00275 <tspan dx="0.8">F=1.0849</tspan></text>
<line x1="663.6" y1="144.05" x2="692.9" y2="144.05" stroke="#00ff00" stroke-width="3"/>
<text transform="translate(703.20 149.05) scale(1.0000 1.0150)" font-size="20.30" text-anchor="start">E=0.00267 <tspan dx="0.8">F=1.0826</tspan></text>
<line x1="663.6" y1="179.60" x2="692.9" y2="179.60" stroke="#000000" stroke-width="3"/>
<text transform="translate(703.20 184.45) scale(1.0000 1.0150)" font-size="20.30" text-anchor="start">E=0.002523 <tspan dx="0.8">F=1.07668</tspan></text>
<line x1="663.6" y1="215.15" x2="692.9" y2="215.15" stroke="#ff8000" stroke-width="3"/>
<text transform="translate(703.20 219.85) scale(1.0000 1.0150)" font-size="20.30" text-anchor="start">E=0.00236 <tspan dx="0.8">F=1.07003</tspan></text>
</g>
</svg></body></html>
